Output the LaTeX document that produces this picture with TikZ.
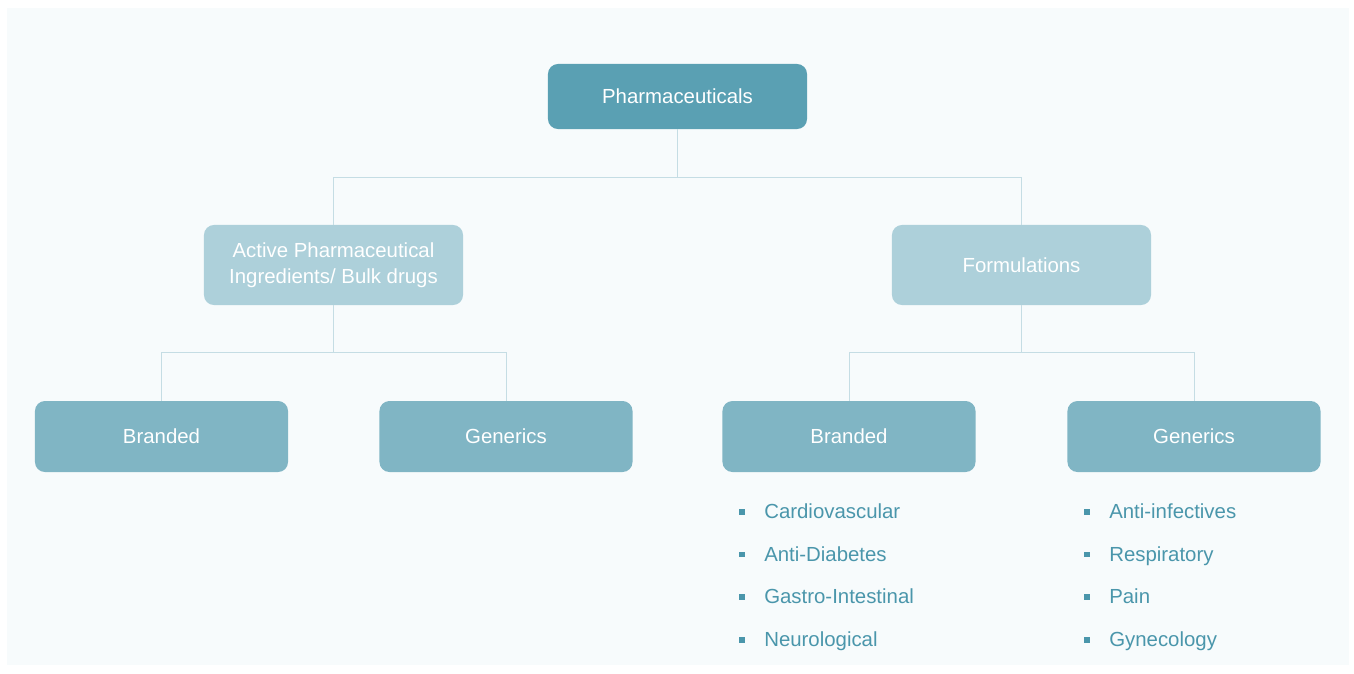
\documentclass[tikz,border=0pt]{standalone}
\usepackage{fontspec}
\setmainfont{Liberation Sans}
\usetikzlibrary{calc}
\definecolor{panelbg}{HTML}{F7FBFC}
\definecolor{topfill}{HTML}{5AA0B3}
\definecolor{midfill}{HTML}{ADD0DA}
\definecolor{lowfill}{HTML}{80B5C4}
\definecolor{linkcol}{HTML}{C5DDE4}
\definecolor{itemcol}{HTML}{4A96AB}
\tikzset{
  box/.style={rounded corners=0.25cm, text=white, align=center,
    font=\fontsize{14.5}{18.4}\selectfont, inner sep=0pt},
  topbox/.style={box, fill=topfill, minimum width=6.475cm, minimum height=1.625cm},
  midbox/.style={box, fill=midfill, minimum width=6.475cm, minimum height=2cm},
  lowbox/.style={box, fill=lowfill, minimum width=6.325cm, minimum height=1.775cm},
  link/.style={draw=linkcol, line width=0.7pt},
  item/.style={anchor=mid west, text=itemcol, inner sep=0pt,
    font=\fontsize{14.5}{17}\selectfont},
  dot/.style={fill=itemcol, minimum size=0.14cm, inner sep=0pt}
}
\begin{document}
\begin{tikzpicture}[x=0.025cm, y=-0.025cm]
	%%%%% PANEL %%%%%
	\useasboundingbox (0, 0) rectangle (1354, 673);
	\fill[white] (0, 0) rectangle (1354, 673);
	\fill[panelbg] (7, 8) rectangle (1349, 665);
	
	%%%%% BOXES %%%%%
	\node[topbox] (pharma) at (677.5, 96.5) {Pharmaceuticals};
	
	\node[midbox] (api) at (333.5, 265) {Active Pharmaceutical\\Ingredients/ Bulk drugs};
	\node[midbox] (form) at (1021.5, 265) {Formulations};
	
	\node[lowbox] (apibrand) at (161.5, 436.5) {Branded};
	\node[lowbox] (apigen) at (506, 436.5) {Generics};
	\node[lowbox] (formbrand) at (849, 436.5) {Branded};
	\node[lowbox] (formgen) at (1194, 436.5) {Generics};
	
	%%%%% LINKS %%%%%
	\draw[link] (pharma.south) -- ++(0, 48) -| (api.north);
	\draw[link] (pharma.south) -- ++(0, 48) -| (form.north);
	\draw[link] (api.south) -- ++(0, 47) -| (apibrand.north);
	\draw[link] (api.south) -- ++(0, 47) -| (apigen.north);
	\draw[link] (form.south) -- ++(0, 47) -| (formbrand.north);
	\draw[link] (form.south) -- ++(0, 47) -| (formgen.north);
	
	%%%%% LISTS %%%%%
	\foreach \txt [count=\i] in {Cardiovascular, Anti-Diabetes, Gastro-Intestinal, Neurological} {
		\node[dot] (bb\i) at (742, 469 + 42.7*\i) {};
		\node[item] (bt\i) at ($(bb\i) + (22, 3)$) {\txt};
	}
	\foreach \txt [count=\i] in {Anti-infectives, Respiratory, Pain, Gynecology} {
		\node[dot] (gb\i) at (1087, 469 + 42.7*\i) {};
		\node[item] (gt\i) at ($(gb\i) + (22, 3)$) {\txt};
	}
	
	%%%%% END %%%%%
\end{tikzpicture}
\end{document}
